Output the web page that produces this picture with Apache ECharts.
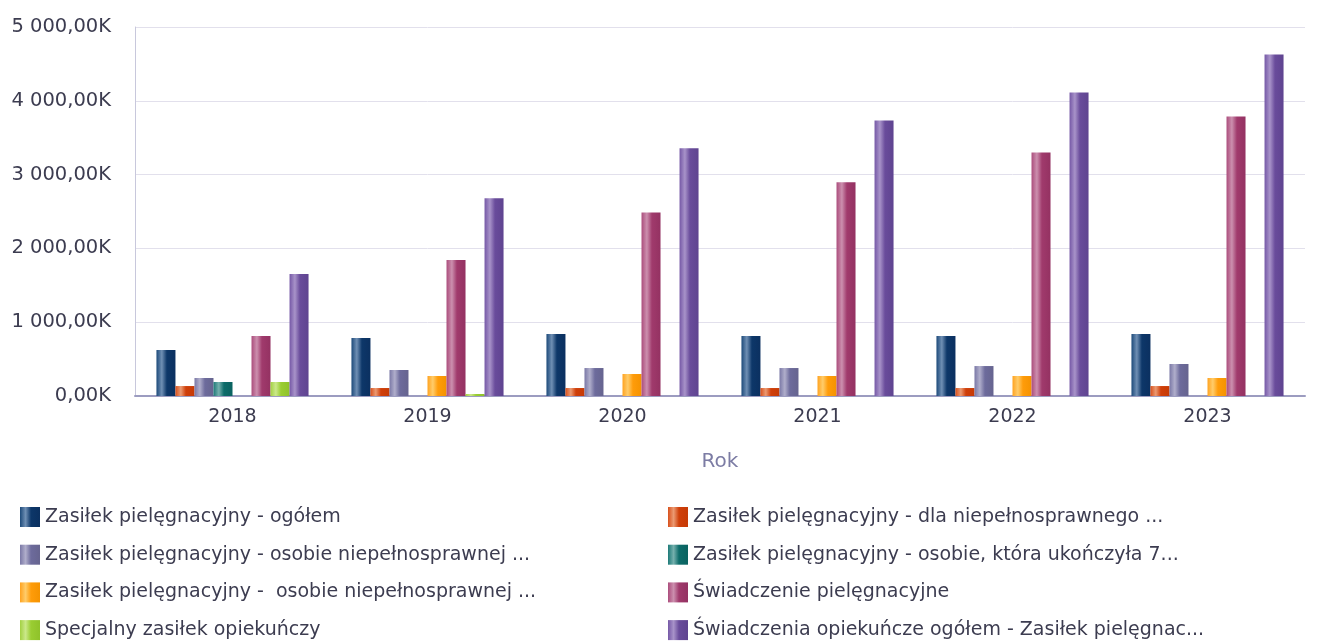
<!DOCTYPE html>
<html>
<head>
<meta charset="utf-8">
<script src="https://cdn.jsdelivr.net/npm/echarts@6/dist/echarts.min.js"></script>
<style>
  html, body { margin: 0; padding: 0; background: #fff; }
  #chart { width: 1318px; height: 641px; }
</style>
</head>
<body>
<div id="chart"></div>
<script>
var years = ['2018', '2019', '2020', '2021', '2022', '2023'];
var seriesNames = [
    'Zasiłek pielęgnacyjny - ogółem',
    'Zasiłek pielęgnacyjny - dla niepełnosprawnego ...',
    'Zasiłek pielęgnacyjny - osobie niepełnosprawnej ...',
    'Zasiłek pielęgnacyjny - osobie, która ukończyła 7...',
    'Zasiłek pielęgnacyjny -  osobie niepełnosprawnej ...',
    'Świadczenie pielęgnacyjne',
    'Specjalny zasiłek opiekuńczy',
    'Świadczenia opiekuńcze ogółem - Zasiłek pielęgnac...'
];
// values in thousands
var zpOgolem = [623, 786, 840, 813, 813, 840];
var zpDzieci = [135, 108, 108, 108, 108, 135];
var zpNiepeln = [244, 352, 379, 379, 406, 434];
var zp75 = [190, null, null, null, null, null];
var zpNiepeln2 = [null, 271, 298, 271, 271, 244];
var swPiel = [813, 1842, 2486, 2896, 3301, 3788];
var specZas = [190, 27, null, null, null, null];
var swOgolem = [1653, 2680, 3356, 3734, 4112, 4626];

var values = [zpOgolem, zpDzieci, zpNiepeln, zp75, zpNiepeln2, swPiel, specZas, swOgolem];
var baseColors = [
    ['#1d4a7a', '#6f8fb4', '#0d3769', '#0b3060'],
    ['#d8501c', '#eb9a72', '#cf3f0a', '#c63a05'],
    ['#7a78a6', '#b0aecb', '#6d6b9c', '#66648f'],
    ['#1d7a78', '#75b0ad', '#0d6c6a', '#0a6260'],
    ['#ffa320', '#ffcc6a', '#ff9c0a', '#f59300'],
    ['#ab4d7c', '#cc8fae', '#a03a6c', '#943262'],
    ['#a3d143', '#cbe88a', '#9acd32', '#8fc22a'],
    ['#7558a6', '#a893c9', '#694c9b', '#5f4490']
];

function grad(c) {
    return new echarts.graphic.LinearGradient(0, 0, 1, 0, [
        { offset: 0, color: c[0] },
        { offset: 0.28, color: c[1] },
        { offset: 0.55, color: c[2] },
        { offset: 1, color: c[3] }
    ]);
}

function fmt(v) {
    var s = Math.round(v).toString().replace(/\B(?=(\d{3})+(?!\d))/g, ' ');
    return s + ',00K';
}

var series = values.map(function (d, i) {
    return {
        name: seriesNames[i],
        type: 'bar',
        data: d,
        barGap: '0%',
        barCategoryGap: '22%',
        itemStyle: { color: grad(baseColors[i]) }
    };
});

var legendText = { fontFamily: 'DejaVu Sans', fontSize: 19, color: '#3c3c50' };

var myChart = echarts.init(document.getElementById('chart'));
var option = {
    animation: false,
    grid: { left: 135, right: 13, top: 27, bottom: 245 },
    legend: [{
        data: [seriesNames[0], seriesNames[2], seriesNames[4], seriesNames[6]],
        orient: 'vertical',
        left: 20,
        top: 507,
        padding: 0,
        itemWidth: 20,
        itemHeight: 20,
        itemGap: 17.7,
        itemTextGap: 7,
        icon: 'rect',
        selectedMode: false,
        textStyle: legendText
    }, {
        data: [seriesNames[1], seriesNames[3], seriesNames[5], seriesNames[7]],
        orient: 'vertical',
        left: 668,
        top: 507,
        padding: 0,
        itemWidth: 20,
        itemHeight: 20,
        itemGap: 17.7,
        itemTextGap: 7,
        icon: 'rect',
        selectedMode: false,
        textStyle: legendText
    }],
    xAxis: {
        type: 'category',
        data: years,
        name: 'Rok',
        nameLocation: 'middle',
        nameGap: 56,
        nameTextStyle: { fontFamily: 'DejaVu Sans', fontSize: 20, color: '#7c7ca4' },
        axisLine: { lineStyle: { color: '#9c9cc0', width: 2 } },
        axisTick: { show: false },
        axisLabel: { fontFamily: 'DejaVu Sans', fontSize: 19, color: '#3c3c50', margin: 12 }
    },
    yAxis: {
        type: 'value',
        min: 0,
        max: 5000,
        interval: 1000,
        axisLine: { show: true, lineStyle: { color: '#c8c8dc', width: 1 } },
        axisTick: { show: false },
        splitLine: { lineStyle: { color: '#e2e0ec', width: 1 } },
        axisLabel: {
            fontFamily: 'DejaVu Sans', fontSize: 19.5, color: '#3c3c50', margin: 24,
            formatter: fmt
        }
    },
    series: series
};
myChart.setOption(option);
</script>
</body>
</html>
